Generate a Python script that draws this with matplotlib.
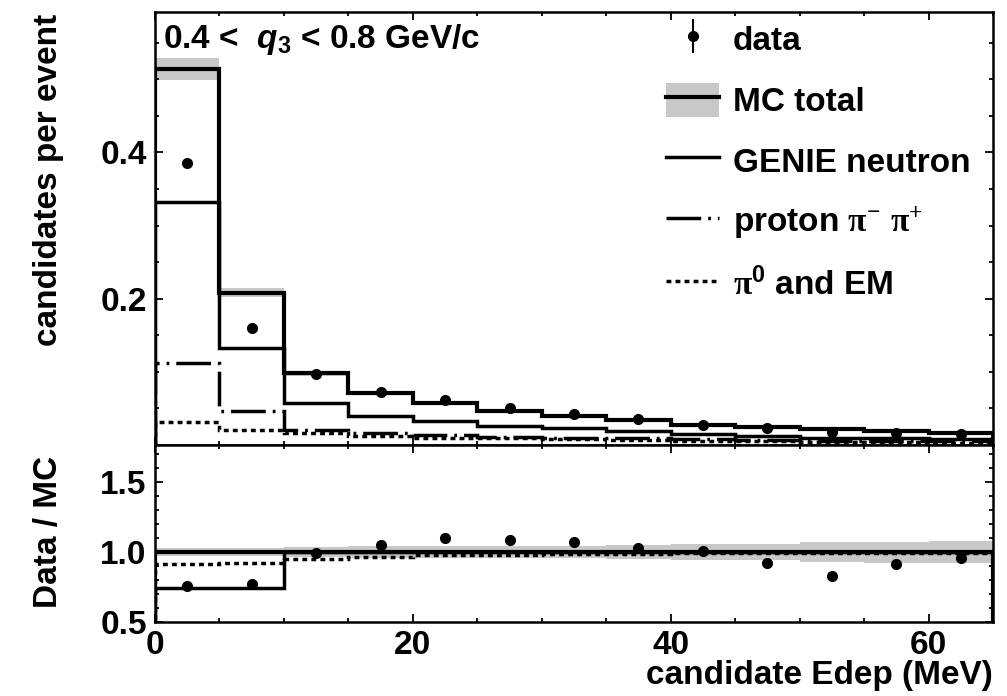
import numpy as np
import matplotlib
matplotlib.use("Agg")
import matplotlib.pyplot as plt
from matplotlib.ticker import MultipleLocator, FixedLocator, FormatStrFormatter
from matplotlib.lines import Line2D
from matplotlib.patches import Patch

plt.rcParams['font.family'] = ['Liberation Sans', 'DejaVu Sans']
plt.rcParams['font.weight'] = 'bold'
plt.rcParams['font.size'] = 24
plt.rcParams['mathtext.fontset'] = 'custom'
plt.rcParams['mathtext.rm'] = 'Liberation Serif'
plt.rcParams['mathtext.it'] = 'Liberation Sans:italic:bold'
plt.rcParams['mathtext.bf'] = 'Liberation Sans:bold'
plt.rcParams['lines.scale_dashes'] = False

# ---------------- data ----------------
bin_edges = [0, 5, 10, 15, 20, 25, 30, 35, 40, 45, 50, 55, 60, 65]
mc_total = [0.514, 0.208, 0.098, 0.071, 0.057, 0.046, 0.040, 0.034, 0.028, 0.025, 0.022, 0.019, 0.016]
mc_rel_err = [0.03, 0.03, 0.035, 0.04, 0.04, 0.04, 0.045, 0.05, 0.055, 0.06, 0.07, 0.075, 0.08]
genie_neutron = [0.332, 0.132, 0.058, 0.040, 0.033, 0.026, 0.023, 0.019, 0.015, 0.012, 0.010, 0.009, 0.008]
proton_pi = [0.112, 0.046, 0.021, 0.016, 0.013, 0.011, 0.010, 0.009, 0.008, 0.007, 0.006, 0.006, 0.005]
pi0_em = [0.032, 0.020, 0.016, 0.012, 0.010, 0.009, 0.008, 0.007, 0.006, 0.005, 0.004, 0.004, 0.003]
data_vals = [0.386, 0.160, 0.097, 0.073, 0.062, 0.050, 0.043, 0.035, 0.028, 0.023, 0.018, 0.017, 0.0155]
data_err = [0.004, 0.003, 0.002, 0.002, 0.002, 0.0015, 0.0015, 0.0015, 0.0012, 0.0012, 0.001, 0.001, 0.001]

ratio_data = [0.757, 0.774, 0.99, 1.053, 1.103, 1.089, 1.071, 1.03, 1.005, 0.924, 0.826, 0.917, 0.96]
ratio_err = [0.01, 0.012, 0.012, 0.015, 0.015, 0.015, 0.015, 0.02, 0.02, 0.025, 0.03, 0.03, 0.035]
ratio_mc = [1.0] * 13
ratio_alt_solid = [0.745, 0.745, 1.0, 1.0, 1.0, 1.0, 1.0, 1.0, 1.0, 1.0, 1.0, 1.0, 1.0]
ratio_alt_dotted = [0.912, 0.924, 0.948, 0.968, 0.978, 0.982, 0.985, 0.988, 0.99, 0.99, 0.99, 0.99, 0.99]

legend_labels = ["data", "MC total", "GENIE neutron",
                 r"proton $\mathrm{\pi}^{-}$ $\mathrm{\pi}^{+}$",
                 r"$\mathrm{\pi}^{\mathbf{0}}$ and EM"]
region_text = r"0.4 <  $q_{\mathbf{3}}$ < 0.8 GeV/c"

# ---------------- figure ----------------
W, H = 1007, 696
fig = plt.figure(figsize=(W / 100, H / 100), dpi=100)
L, R = 155, 993
ax1 = fig.add_axes([L / W, 1 - 445 / H, (R - L) / W, 433 / H])
ax2 = fig.add_axes([L / W, 1 - 622 / H, (R - L) / W, 177 / H], sharex=ax1)

edges = np.array(bin_edges, dtype=float)
centers = 0.5 * (edges[:-1] + edges[1:])
mc = np.array(mc_total)
rel = np.array(mc_rel_err)

band_col = '#c8c8c8'
dash_proton = (0, (25, 5, 2, 5))
dot_style = (0, (3.5, 3.0))

# upper panel
ax1.stairs(mc * (1 + rel), edges, baseline=mc * (1 - rel), fill=True,
           color=band_col, lw=0, zorder=1)
ax1.stairs(mc, edges, color='black', lw=3.0, zorder=4)
ax1.stairs(genie_neutron, edges, color='black', lw=2.5, zorder=3)
ax1.stairs(proton_pi, edges, color='black', lw=2.5, linestyle=dash_proton, zorder=3)
ax1.stairs(pi0_em, edges, color='black', lw=2.5, linestyle=dot_style, zorder=3)
eb = ax1.errorbar(centers, data_vals, yerr=data_err, fmt='o', color='black',
                  ms=7, elinewidth=1.5, capsize=0, zorder=5)

ax1.set_xlim(0, 65)
ax1.set_ylim(0, 0.592)
ax1.yaxis.set_major_locator(FixedLocator([0.2, 0.4]))
ax1.yaxis.set_major_formatter(FormatStrFormatter('%.1f'))
ax1.yaxis.set_minor_locator(MultipleLocator(0.05))
ax1.xaxis.set_major_locator(MultipleLocator(20))
ax1.xaxis.set_minor_locator(MultipleLocator(5))
ax1.tick_params(axis='x', labelbottom=False)

ax1.text(0.0095, 0.917, region_text, transform=ax1.transAxes, ha='left',
         va='baseline', fontsize=24, fontweight='bold')

ax1.set_ylabel("candidates per event", loc='top', fontsize=24, fontweight='bold')
ax1.yaxis.set_label_coords(-0.108, 0.995)

h_data = eb
h_mc = (Patch(facecolor=band_col, edgecolor='none'), Line2D([], [], color='black', lw=3.0))
h_neu = Line2D([], [], color='black', lw=2.5)
h_pro = Line2D([], [], color='black', lw=2.5, linestyle=dash_proton)
h_pi0 = Line2D([], [], color='black', lw=2.5, linestyle=dot_style)
leg = ax1.legend([h_data, h_mc, h_neu, h_pro, h_pi0], legend_labels,
                 loc='upper left', bbox_to_anchor=(666 / W, 1 - 22 / H),
                 bbox_transform=fig.transFigure, frameon=False, fontsize=24,
                 handlelength=1.6, handleheight=1.2, handletextpad=0.4,
                 labelspacing=0.76, borderpad=0, borderaxespad=0)

# lower panel
ax2.stairs(1 + rel, edges, baseline=1 - rel, fill=True, color=band_col, lw=0, zorder=1)
ax2.stairs(ratio_mc, edges, color='black', lw=3.0, zorder=3)
ax2.stairs(ratio_alt_solid, edges, color='black', lw=2.5, zorder=3)
ax2.stairs(ratio_alt_dotted, edges, color='black', lw=2.5, linestyle=dot_style, zorder=3)
ax2.errorbar(centers, ratio_data, yerr=ratio_err, fmt='o', color='black',
             ms=7, elinewidth=1.5, capsize=0, zorder=5)

ax2.set_ylim(0.5, 1.765)
ax2.yaxis.set_major_locator(FixedLocator([0.5, 1.0, 1.5]))
ax2.yaxis.set_major_formatter(FormatStrFormatter('%.1f'))
ax2.yaxis.set_minor_locator(MultipleLocator(0.1))
ax2.set_xlabel("candidate Edep (MeV)", loc='right', fontsize=24, fontweight='bold')
ax2.xaxis.set_label_coords(1.0, -0.215)
ax2.set_ylabel("Data / MC", loc='top', fontsize=24, fontweight='bold')
ax2.yaxis.set_label_coords(-0.108, 0.94)

for ax in (ax1, ax2):
    for s in ax.spines.values():
        s.set_linewidth(1.8)
    ax.tick_params(which='both', direction='in', top=True, right=True, width=1.3)
    ax.tick_params(which='major', length=6, pad=6)
    ax.tick_params(which='minor', length=3)

fig.savefig("out.png", dpi=100)
